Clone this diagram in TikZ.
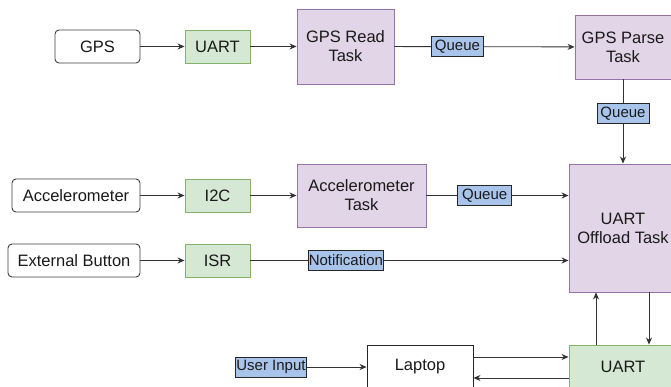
\documentclass[tikz,border=0pt]{standalone}
\usepackage{fontspec}
\setmainfont{Liberation Sans}
\usetikzlibrary{arrows.meta}

\definecolor{taskfill}{HTML}{E1D5E7}
\definecolor{taskline}{HTML}{9673A6}
\definecolor{portfill}{HTML}{D5E8D4}
\definecolor{portline}{HTML}{82B366}
\definecolor{tagfill}{HTML}{A9C4EB}
\definecolor{inktext}{HTML}{1A1A1A}

\begin{document}
\begin{tikzpicture}[
    x=1pt, y=-1pt,
    every node/.style={text=inktext, font=\fontsize{16.5}{19}\selectfont, align=center, inner sep=0pt},
    device/.style={draw=black!75, line width=0.9pt, rounded corners=4pt, minimum height=33pt},
    port/.style={draw=portline, line width=0.9pt, fill=portfill, minimum width=65pt, minimum height=33pt},
    task/.style={draw=taskline, line width=0.9pt, fill=taskfill},
    plain/.style={draw=black!85, line width=0.9pt, fill=white},
    tag/.style={draw=black!85, line width=0.9pt, fill=tagfill, font=\fontsize{15}{16}\selectfont,
                minimum height=20pt, inner xsep=0.5pt},
    flow/.style={draw=black!80, line width=0.8pt, -{Stealth[length=7pt, width=6pt]}}
]
    \clip (0,0) rectangle (671,387);
    \fill[white] (0,0) rectangle (671,387);

    % --- Sources ---
    \node[device, minimum width=85pt]  (gps)    at (97.5, 46.5) {GPS};
    \node[device, minimum width=128pt] (accel)  at (76,  195.5) {Accelerometer};
    \node[device, minimum width=132pt] (button) at (74,  260.5) {External Button};

    % --- Peripherals ---
    \node[port] (uartin) at (217.5, 46.5)  {UART};
    \node[port] (i2c)    at (217.5, 195.5) {I2C};
    \node[port] (isr)    at (217.5, 260.5) {ISR};

    % --- Tasks ---
    \node[task, minimum width=97pt,  minimum height=75pt]  (readtask)  at (345.5, 46.5) {GPS Read\\Task};
    \node[task, minimum width=96pt,  minimum height=64pt]  (parsetask) at (623, 47)     {GPS Parse\\Task};
    \node[task, minimum width=129pt, minimum height=63pt]  (acceltask) at (361.5, 195.5) {Accelerometer\\Task};
    \node[task, minimum width=108pt, minimum height=128pt] (offload)   at (623, 228)    {UART\\Offload Task};

    % --- Host side ---
    \node[port, minimum width=108pt, minimum height=44pt] (uartout) at (623, 367) {UART};
    \node[plain, minimum width=106pt, minimum height=44pt] (laptop) at (420, 367) {Laptop};
    \node[tag, minimum width=70pt] (userin) at (271, 367) {User Input};

    % --- Links ---
    \draw[flow] (gps)    -- (uartin);
    \draw[flow] (uartin) -- (readtask);
    \draw[flow] (accel)  -- (i2c);
    \draw[flow] (i2c)    -- (acceltask);
    \draw[flow] (button) -- (isr);

    \draw[flow] (readtask) -- node[tag, pos=0.35, minimum width=52pt] (q1) {Queue} (parsetask);
    \draw[flow] (parsetask) -- node[tag, pos=0.41, minimum width=52pt] (q2) {Queue} (offload);
    \draw[flow] (acceltask.east) -- node[tag, pos=0.41, minimum width=54pt] (q3) {Queue} (acceltask.east -| offload.west);
    \draw[flow] (isr.east) -- node[tag, pos=0.30, minimum width=75pt] (notif) {Notification} (isr.east -| offload.west);

    \draw[flow] ([xshift=-27pt]uartout.north) -- ([xshift=-27pt]offload.south);
    \draw[flow] ([xshift=26pt]offload.south) -- ([xshift=26pt]uartout.north);
    \draw[flow] ([yshift=10pt]laptop.east) -- ([yshift=10pt]uartout.west);
    \draw[flow] ([yshift=-11pt]uartout.west) -- ([yshift=-11pt]laptop.east);
    \draw[flow] (userin) -- (laptop);
\end{tikzpicture}
\end{document}
